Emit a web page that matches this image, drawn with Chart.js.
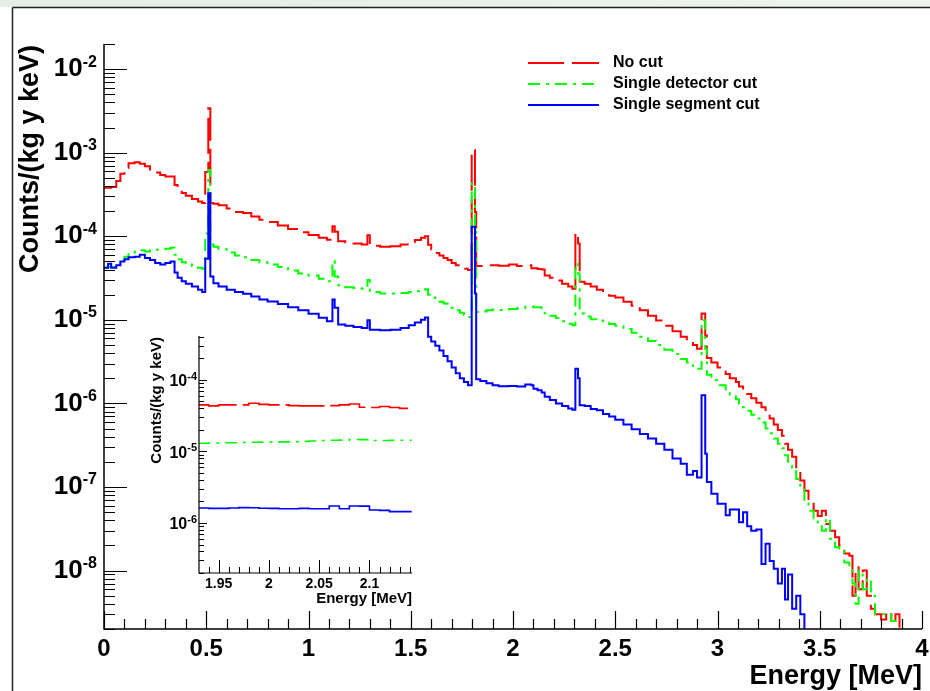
<!DOCTYPE html>
<html>
<head>
<meta charset="utf-8">
<script src="https://cdn.jsdelivr.net/npm/chart.js@4.4.0/dist/chart.umd.min.js"></script>
<style>
  body { margin: 0; background: #fff; }
  #wrap { position: relative; width: 930px; height: 691px; overflow: hidden; }
  #main { position: absolute; left: 0; top: 0; }
  #inset { position: absolute; left: 130px; top: 325px; }
</style>
</head>
<body>
<div id="wrap">
  <canvas id="main" width="930" height="691"></canvas>
  <canvas id="inset" width="295" height="290"></canvas>
</div>
<script>
// bin left edges in MeV (last entry closes the histogram)
var energies = [
  0.000, 0.020, 0.035, 0.060, 0.080, 0.100, 0.120, 0.150, 0.175, 0.200,
  0.225, 0.250, 0.275, 0.300, 0.325, 0.345, 0.360, 0.380, 0.400, 0.430,
  0.460, 0.480, 0.495, 0.510, 0.520, 0.535, 0.560, 0.600, 0.640, 0.680,
  0.720, 0.760, 0.800, 0.850, 0.900, 0.950, 1.000, 1.050, 1.090, 1.117,
  1.128, 1.145, 1.180, 1.220, 1.260, 1.288, 1.300, 1.350, 1.400, 1.450,
  1.490, 1.520, 1.550, 1.570, 1.585, 1.600, 1.620, 1.640, 1.660, 1.680,
  1.700, 1.720, 1.740, 1.760, 1.780, 1.798, 1.814, 1.820, 1.840, 1.870,
  1.900, 1.930, 1.980, 2.020, 2.060, 2.090, 2.100, 2.120, 2.140, 2.155,
  2.180, 2.210, 2.240, 2.270, 2.290, 2.305, 2.318, 2.326, 2.350, 2.380,
  2.410, 2.440, 2.470, 2.500, 2.540, 2.580, 2.620, 2.660, 2.700, 2.740,
  2.780, 2.820, 2.850, 2.880, 2.900, 2.922, 2.940, 2.948, 2.970, 3.000,
  3.040, 3.060, 3.090, 3.105, 3.125, 3.145, 3.165, 3.190, 3.215, 3.235,
  3.255, 3.275, 3.295, 3.315, 3.330, 3.345, 3.365, 3.385, 3.405, 3.425,
  3.445, 3.470, 3.490, 3.510, 3.530, 3.550, 3.575, 3.595, 3.620, 3.645,
  3.660, 3.675, 3.690, 3.710, 3.730, 3.750, 3.770, 3.800, 3.825, 3.850,
  3.870, 3.890
];

var noCut = [
  3.8e-4, 3.8e-4, 3.9e-4, 4.6e-4, 5.6e-4, 6.6e-4, 7.5e-4, 7.7e-4, 7.4e-4, 6.9e-4,
  6.3e-4, 5.8e-4, 5.4e-4, 5.2e-4, 5.2e-4, 4.1e-4, 3.6e-4, 3.3e-4, 3.05e-4, 2.8e-4,
  2.6e-4, 2.5e-4, 5.9e-4, 3.4e-3, 2.5e-4, 2.45e-4, 2.35e-4, 2.15e-4, 1.95e-4, 1.9e-4,
  1.72e-4, 1.58e-4, 1.48e-4, 1.35e-4, 1.22e-4, 1.12e-4, 1.04e-4, 9.6e-5, 9.1e-5, 1.32e-4,
  1.13e-4, 8.7e-5, 8.5e-5, 8.2e-5, 8.0e-5, 1.03e-4, 7.7e-5, 7.5e-5, 7.6e-5, 8.0e-5,
  8.5e-5, 9.0e-5, 9.6e-5, 1.0e-4, 7.9e-5, 7.0e-5, 6.3e-5, 5.9e-5, 5.5e-5, 5.2e-5,
  4.8e-5, 4.5e-5, 4.3e-5, 4.1e-5, 3.95e-5, 1.08e-3, 1.96e-4, 4.4e-5, 4.4e-5, 4.5e-5,
  4.5e-5, 4.45e-5, 4.6e-5, 4.4e-5, 4.5e-5, 4.15e-5, 4.15e-5, 4.05e-5, 4.0e-5, 3.4e-5,
  3.2e-5, 2.95e-5, 2.7e-5, 2.5e-5, 2.35e-5, 1.1e-4, 8.2e-5, 2.85e-5, 2.7e-5, 2.5e-5,
  2.3e-5, 2.1e-5, 1.95e-5, 1.85e-5, 1.65e-5, 1.48e-5, 1.3e-5, 1.12e-5, 9.8e-6, 8.5e-6,
  7.3e-6, 6.3e-6, 5.6e-6, 5.0e-6, 4.5e-6, 1.19e-5, 6.5e-6, 3.5e-6, 3.1e-6, 2.7e-6,
  2.25e-6, 2.0e-6, 1.8e-6, 1.6e-6, 1.45e-6, 1.3e-6, 1.15e-6, 1.02e-6, 9.0e-7, 7.6e-7,
  6.6e-7, 5.6e-7, 4.8e-7, 4.1e-7, 3.3e-7, 2.8e-7, 2.3e-7, 1.6e-7, 1.2e-7, 9e-8,
  7e-8, 5.2e-8, 4.5e-8, 5.2e-8, 3.6e-8, 3.0e-8, 2.5e-8, 2.0e-8, 1.6e-8, 1.5e-8,
  5e-9, 1.1e-8, 6e-9, 1.0e-8, 5e-9, 3.5e-9, 3e-9, 2.6e-9, 3.2e-9, 2.5e-9,
  3e-9, 1e-10
];

var detectorCut = [
  4.2e-5, 4.3e-5, 4.3e-5, 4.6e-5, 5.2e-5, 5.7e-5, 6.3e-5, 6.6e-5, 6.8e-5, 6.6e-5,
  6.8e-5, 6.9e-5, 7.0e-5, 7.1e-5, 7.3e-5, 6.0e-5, 5.3e-5, 4.9e-5, 4.6e-5, 4.4e-5,
  4.2e-5, 4.1e-5, 1.08e-4, 6.2e-4, 8.0e-5, 7.5e-5, 7.0e-5, 6.4e-5, 5.9e-5, 5.6e-5,
  5.2e-5, 4.9e-5, 4.6e-5, 4.3e-5, 3.9e-5, 3.6e-5, 3.4e-5, 3.1e-5, 2.9e-5, 5.1e-5,
  3.3e-5, 2.6e-5, 2.45e-5, 2.4e-5, 2.35e-5, 3.0e-5, 2.15e-5, 2.07e-5, 2.07e-5, 2.1e-5,
  2.15e-5, 2.2e-5, 2.28e-5, 2.32e-5, 2.0e-5, 1.85e-5, 1.75e-5, 1.65e-5, 1.57e-5, 1.5e-5,
  1.4e-5, 1.3e-5, 1.22e-5, 1.14e-5, 1.08e-5, 4.3e-4, 1.3e-4, 1.24e-5, 1.26e-5, 1.3e-5,
  1.33e-5, 1.31e-5, 1.35e-5, 1.38e-5, 1.44e-5, 1.45e-5, 1.42e-5, 1.42e-5, 1.38e-5, 1.2e-5,
  1.12e-5, 1.05e-5, 9.6e-6, 9.0e-6, 8.6e-6, 4.7e-5, 3.6e-5, 1.19e-5, 1.1e-5, 1.02e-5,
  9.8e-6, 9.3e-6, 8.9e-6, 8.5e-6, 7.8e-6, 7.0e-6, 6.3e-6, 5.6e-6, 5.0e-6, 4.4e-6,
  3.9e-6, 3.4e-6, 3.1e-6, 2.8e-6, 2.6e-6, 9.9e-6, 4.5e-6, 2.2e-6, 1.9e-6, 1.65e-6,
  1.4e-6, 1.28e-6, 1.12e-6, 1.0e-6, 9.0e-7, 8.2e-7, 7.3e-7, 6.6e-7, 5.9e-7, 5.0e-7,
  4.4e-7, 3.8e-7, 3.3e-7, 2.9e-7, 2.4e-7, 2.0e-7, 1.7e-7, 1.25e-7, 9.5e-8, 6.8e-8,
  5.2e-8, 4.2e-8, 3.6e-8, 3.0e-8, 4.2e-8, 2.4e-8, 1.9e-8, 1.7e-8, 1.25e-8, 1.1e-8,
  7e-9, 4e-9, 1.0e-8, 6e-9, 8e-9, 5e-9, 3e-9, 3e-9, 3e-9, 2.5e-9,
  1e-10, 1e-10
];

var segmentCut = [
  4.2e-5, 4.7e-5, 4.2e-5, 4.5e-5, 5.0e-5, 5.3e-5, 5.6e-5, 5.7e-5, 6.0e-5, 5.5e-5,
  5.2e-5, 4.8e-5, 4.6e-5, 4.8e-5, 5.0e-5, 3.7e-5, 3.2e-5, 2.9e-5, 2.7e-5, 2.5e-5,
  2.3e-5, 2.15e-5, 5.4e-5, 3.27e-4, 3.3e-5, 2.75e-5, 2.5e-5, 2.3e-5, 2.15e-5, 2.05e-5,
  1.9e-5, 1.75e-5, 1.66e-5, 1.55e-5, 1.42e-5, 1.3e-5, 1.18e-5, 1.06e-5, 9.6e-6, 1.75e-5,
  1.4e-5, 8.8e-6, 8.5e-6, 8.2e-6, 8.0e-6, 9.9e-6, 7.6e-6, 7.5e-6, 7.6e-6, 8.0e-6,
  8.6e-6, 9.3e-6, 1.0e-5, 1.07e-5, 6.3e-6, 5.5e-6, 4.9e-6, 4.3e-6, 3.7e-6, 3.2e-6,
  2.7e-6, 2.3e-6, 2.0e-6, 1.8e-6, 1.65e-6, 1.3e-4, 2.07e-5, 1.95e-6, 1.85e-6, 1.75e-6,
  1.65e-6, 1.61e-6, 1.62e-6, 1.59e-6, 1.68e-6, 1.65e-6, 1.5e-6, 1.44e-6, 1.35e-6, 1.2e-6,
  1.1e-6, 1.0e-6, 9.3e-7, 8.7e-7, 8.4e-7, 2.6e-6, 2.0e-6, 9.5e-7, 9.3e-7, 8.6e-7,
  8.3e-7, 7.5e-7, 7.0e-7, 6.4e-7, 5.6e-7, 4.9e-7, 4.3e-7, 3.8e-7, 3.3e-7, 2.8e-7,
  2.2e-7, 1.9e-7, 1.4e-7, 1.55e-7, 1.3e-7, 1.25e-6, 2.5e-7, 1.15e-7, 8.3e-8, 6.3e-8,
  4.6e-8, 5.4e-8, 5.4e-8, 3.8e-8, 5.0e-8, 3.4e-8, 3.0e-8, 3.1e-8, 1.2e-8, 2.1e-8,
  1.3e-8, 1.05e-8, 7e-9, 1.05e-8, 4.5e-9, 9e-9, 3.5e-9, 5e-9, 3e-9, 1e-10,
  1e-10, 1e-10, 1e-10, 1e-10, 1e-10, 1e-10, 1e-10, 1e-10, 1e-10, 1e-10,
  1e-10, 1e-10, 1e-10, 1e-10, 1e-10, 1e-10, 1e-10, 1e-10, 1e-10, 1e-10,
  1e-10, 1e-10
];

// inset: 10 keV bins from 1.93 to 2.14 MeV (last entry closes)
var insetEnergies = [
  1.93, 1.94, 1.95, 1.96, 1.97, 1.98, 1.99, 2.00, 2.01, 2.02, 2.03,
  2.04, 2.05, 2.06, 2.07, 2.08, 2.09, 2.10, 2.11, 2.12, 2.13, 2.142
];
var insetNoCut = [
  4.47e-5, 4.33e-5, 4.47e-5, 4.47e-5, 4.47e-5, 4.7e-5, 4.55e-5, 4.47e-5, 4.47e-5, 4.37e-5, 4.33e-5,
  4.33e-5, 4.33e-5, 4.37e-5, 4.47e-5, 4.6e-5, 4.15e-5, 4.1e-5, 4.25e-5, 4.1e-5, 4.0e-5, 4.0e-5
];
var insetDetectorCut = [
  1.30e-5, 1.31e-5, 1.32e-5, 1.32e-5, 1.33e-5, 1.34e-5, 1.35e-5, 1.35e-5, 1.36e-5, 1.37e-5, 1.38e-5,
  1.40e-5, 1.42e-5, 1.43e-5, 1.44e-5, 1.47e-5, 1.46e-5, 1.42e-5, 1.42e-5, 1.43e-5, 1.43e-5, 1.43e-5
];
var insetSegmentCut = [
  1.62e-6, 1.60e-6, 1.60e-6, 1.62e-6, 1.64e-6, 1.63e-6, 1.61e-6, 1.60e-6, 1.58e-6, 1.58e-6, 1.60e-6,
  1.58e-6, 1.58e-6, 1.73e-6, 1.58e-6, 1.73e-6, 1.72e-6, 1.52e-6, 1.50e-6, 1.44e-6, 1.44e-6, 1.44e-6
];

var seriesNames = ["No cut", "Single detector cut", "Single segment cut"];
var seriesColors = ["#ff0000", "#00ff00", "#0000ff"];
var seriesDash = [[36, 8], [12, 6, 3, 6], []];
var insetDash = [[40, 6], [12, 6, 3, 6], []];

var mainXTicks = [0, 0.5, 1, 1.5, 2, 2.5, 3, 3.5, 4];
var mainYExp = [-8, -7, -6, -5, -4, -3, -2];
var insetXTicks = [1.95, 2, 2.05, 2.1];
var insetYExp = [-6, -5, -4];

var FONT = "'Liberation Sans', Arial, sans-serif";

function toPoints(xs, ys) {
  var pts = [];
  for (var i = 0; i < xs.length; i++) {
    pts.push({ x: xs[i], y: ys[i] });
  }
  return pts;
}

function makeDatasets(xs, lists, dashes, width) {
  var ds = [];
  for (var i = 0; i < lists.length; i++) {
    ds.push({
      label: seriesNames[i],
      data: toPoints(xs, lists[i]),
      borderColor: seriesColors[i],
      borderWidth: width,
      borderDash: dashes[i],
      stepped: true,
      pointRadius: 0,
      fill: false,
      order: 3 - i
    });
  }
  return ds;
}

// draws ROOT-like axes: lines, ticks, labels, titles
function drawFrame(chart, o) {
  var ctx = chart.ctx, a = chart.chartArea;
  var xs = chart.scales.x, ys = chart.scales.y;
  ctx.save();
  ctx.strokeStyle = "#000";
  ctx.lineWidth = o.axisWidth;
  ctx.beginPath();
  ctx.moveTo(a.left, a.top);
  ctx.lineTo(a.left, a.bottom);
  ctx.lineTo(a.right, a.bottom);
  ctx.stroke();

  ctx.lineWidth = o.tickWidth;
  ctx.beginPath();
  // x ticks
  var k0 = Math.ceil(xs.min / o.xMinor - 1e-6), k1 = Math.floor(xs.max / o.xMinor + 1e-6);
  for (var k = k0; k <= k1; k++) {
    var v = k * o.xMinor;
    var r = v / o.xMajor;
    var major = Math.abs(r - Math.round(r)) < 1e-6;
    var px = Math.round(xs.getPixelForValue(v)) + 0.5;
    ctx.moveTo(px, a.bottom);
    ctx.lineTo(px, a.bottom - (major ? o.xMajorLen : o.xMinorLen));
  }
  // y ticks (log)
  var d0 = Math.floor(Math.log10(ys.min)), d1 = Math.ceil(Math.log10(ys.max));
  for (var d = d0; d <= d1; d++) {
    for (var m = 1; m <= 9; m++) {
      var yv = m * Math.pow(10, d);
      if (yv < ys.min || yv > ys.max) continue;
      var py = Math.round(ys.getPixelForValue(yv)) + 0.5;
      ctx.moveTo(a.left, py);
      ctx.lineTo(a.left + (m === 1 ? o.yMajorLen : o.yMinorLen), py);
    }
  }
  ctx.stroke();

  // x labels
  ctx.fillStyle = "#000";
  ctx.font = "bold " + o.xLabelSize + "px " + FONT;
  ctx.textAlign = "center";
  ctx.textBaseline = "top";
  o.xTicks.forEach(function (t) {
    ctx.fillText(String(t), xs.getPixelForValue(t), a.bottom + o.xLabelGap);
  });

  // y labels 10^n
  ctx.textBaseline = "middle";
  ctx.textAlign = "left";
  o.yExp.forEach(function (e) {
    var py = ys.getPixelForValue(Math.pow(10, e));
    var sup = "-" + Math.abs(e);
    ctx.font = "bold " + o.supSize + "px " + FONT;
    var sw = ctx.measureText(sup).width;
    ctx.font = "bold " + o.yLabelSize + "px " + FONT;
    var bw = ctx.measureText("10").width;
    var x0 = o.yLabelRight - sw - bw;
    ctx.fillText("10", x0, py + o.baseShift);
    ctx.font = "bold " + o.supSize + "px " + FONT;
    ctx.fillText(sup, x0 + bw, py + o.supShift);
  });

  // titles
  ctx.font = "bold " + o.titleSize + "px " + FONT;
  ctx.textAlign = "right";
  ctx.textBaseline = "alphabetic";
  ctx.fillText("Energy [MeV]", o.xTitleRight, o.xTitleBase);
  ctx.translate(o.yTitleX, o.yTitleTop);
  ctx.rotate(-Math.PI / 2);
  ctx.textBaseline = "middle";
  ctx.fillText("Counts/(kg y keV)", 0, 0);
  ctx.restore();
}

var mainFrame = {
  id: "mainFrame",
  beforeDraw: function (chart) {
    var ctx = chart.ctx;
    ctx.save();
    var g = ctx.createLinearGradient(0, 0, 930, 0);
    g.addColorStop(0, "#e4eee4");
    g.addColorStop(1, "#eef5ee");
    ctx.fillStyle = g;
    ctx.fillRect(0, 0, 930, 7);
    ctx.strokeStyle = "#222";
    ctx.lineWidth = 1.5;
    ctx.beginPath();
    ctx.moveTo(12.5, 7.5);
    ctx.lineTo(930, 7.5);
    ctx.moveTo(12.5, 7.5);
    ctx.lineTo(12.5, 691);
    ctx.stroke();
    ctx.restore();
  },
  afterDraw: function (chart) {
    drawFrame(chart, {
      axisWidth: 1.5, tickWidth: 1.2,
      xMinor: 0.1, xMajor: 0.5, xMajorLen: 18, xMinorLen: 10,
      yMajorLen: 23, yMinorLen: 11,
      xTicks: mainXTicks, yExp: mainYExp,
      xLabelSize: 24, xLabelGap: 8,
      yLabelSize: 26, supSize: 16, yLabelRight: 97, baseShift: 0, supShift: -7,
      titleSize: 27, xTitleRight: 922, xTitleBase: 684,
      yTitleX: 31, yTitleTop: 45
    });
    // legend
    var ctx = chart.ctx;
    ctx.save();
    var rows = [63, 84, 105];
    for (var i = 0; i < 3; i++) {
      ctx.strokeStyle = seriesColors[i];
      ctx.lineWidth = 2;
      ctx.setLineDash(seriesDash[i]);
      ctx.beginPath();
      ctx.moveTo(528, rows[i]);
      ctx.lineTo(599, rows[i]);
      ctx.stroke();
    }
    ctx.setLineDash([]);
    ctx.fillStyle = "#000";
    ctx.font = "bold 16px " + FONT;
    ctx.textAlign = "left";
    ctx.textBaseline = "middle";
    for (var j = 0; j < 3; j++) {
      ctx.fillText(seriesNames[j], 613, rows[j]);
    }
    ctx.restore();
  }
};

var insetFrame = {
  id: "insetFrame",
  afterDraw: function (chart) {
    drawFrame(chart, {
      axisWidth: 1.2, tickWidth: 1,
      xMinor: 0.01, xMajor: 0.05, xMajorLen: 13, xMinorLen: 6,
      yMajorLen: 8, yMinorLen: 5,
      xTicks: insetXTicks, yExp: insetYExp,
      xLabelSize: 14, xLabelGap: 4,
      yLabelSize: 16, supSize: 11, yLabelRight: 197 - 130, baseShift: 2, supShift: -3,
      titleSize: 15, xTitleRight: 412 - 130, xTitleBase: 603 - 325,
      yTitleX: 157 - 130, yTitleTop: 337 - 325
    });
  }
};

new Chart(document.getElementById("main"), {
  type: "line",
  data: { datasets: makeDatasets(energies, [noCut, detectorCut, segmentCut], seriesDash, 2) },
  options: {
    responsive: false,
    animation: false,
    devicePixelRatio: 1,
    layout: { padding: { left: 104, right: 8, top: 44, bottom: 62 } },
    plugins: { legend: { display: false }, tooltip: { enabled: false } },
    scales: {
      x: { type: "linear", min: 0, max: 4, display: false },
      y: { type: "logarithmic", min: 2e-9, max: 2e-2, display: false }
    }
  },
  plugins: [mainFrame]
});

new Chart(document.getElementById("inset"), {
  type: "line",
  data: { datasets: makeDatasets(insetEnergies, [insetNoCut, insetDetectorCut, insetSegmentCut], insetDash, 1.6) },
  options: {
    responsive: false,
    animation: false,
    devicePixelRatio: 1,
    layout: { padding: { left: 69, right: 13, top: 11, bottom: 42 } },
    plugins: { legend: { display: false }, tooltip: { enabled: false } },
    scales: {
      x: { type: "linear", min: 1.9304, max: 2.1423, display: false },
      y: { type: "logarithmic", min: 2e-7, max: 4.1e-4, display: false }
    }
  },
  plugins: [insetFrame]
});
</script>
</body>
</html>
